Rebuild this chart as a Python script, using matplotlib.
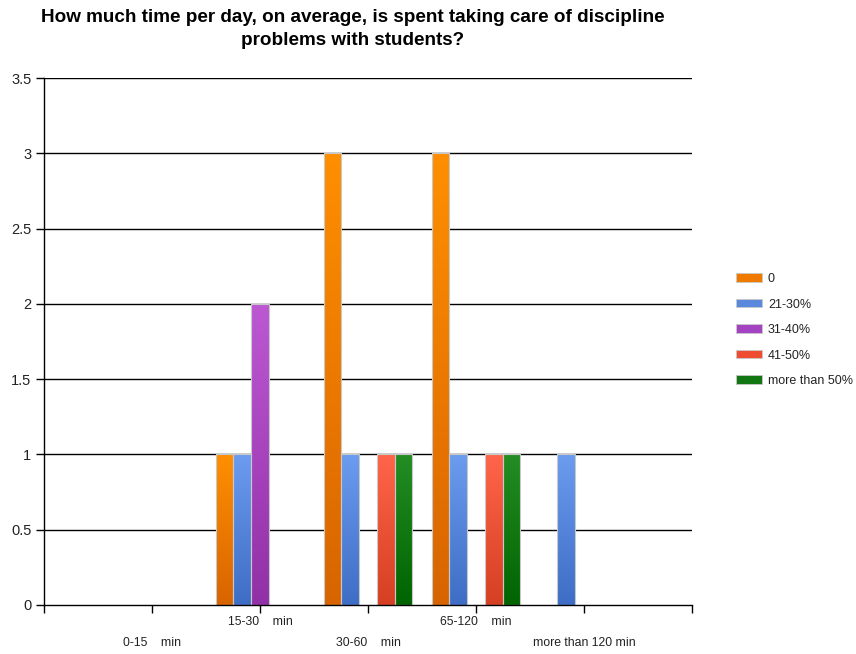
import numpy as np
import matplotlib
matplotlib.use("Agg")
import matplotlib.pyplot as plt
from matplotlib.colors import LinearSegmentedColormap
from matplotlib.patches import Patch

plt.rcParams['font.family'] = ['Liberation Sans', 'DejaVu Sans']

# ---- data ----
categories = ["0-15    min", "15-30    min", "30-60    min", "65-120    min", "more than 120 min"]
series_names = ["0", "21-30%", "31-40%", "41-50%", "more than 50%"]
values_0 = [0, 1, 3, 3, 0]
values_21_30 = [0, 1, 1, 1, 1]
values_31_40 = [0, 2, 0, 0, 0]
values_41_50 = [0, 0, 1, 1, 0]
values_over_50 = [0, 0, 1, 1, 0]
series_values = [values_0, values_21_30, values_31_40, values_41_50, values_over_50]

# gradient colours (top, bottom) and legend swatch colours
grad_colors = [("#FF8F00", "#D86400"),
               ("#6B9CEF", "#3E6DC5"),
               ("#BD58D3", "#9230A7"),
               ("#FF654A", "#D53F22"),
               ("#248D24", "#006400")]
legend_colors = ["#F07A00", "#5A88DD", "#A343C2", "#EE4D32", "#127612"]

fig = plt.figure(figsize=(8.56, 6.54), dpi=100)
W, H = 856, 654
ax = fig.add_axes([44 / W, 1 - 605 / H, (692 - 44) / W, (605 - 78) / H])

x = np.arange(1, len(categories) + 1)
bw = 0.164
n = len(series_names)

ax.set_xlim(0, len(categories) + 1)
ax.set_ylim(0, 3.5)

# horizontal grid
for yv in np.arange(0.5, 3.51, 0.5):
    ax.axhline(yv, color="black", lw=1.0, zorder=1)

for i, vals in enumerate(series_values):
    offs = (i - (n - 1) / 2) * bw
    cmap = LinearSegmentedColormap.from_list("g%d" % i, [grad_colors[i][1], grad_colors[i][0]])
    bars = ax.bar(x + offs, vals, width=bw, color="none", edgecolor="#C8C8C8",
                  linewidth=0.8, zorder=3)
    for rect, v in zip(bars, vals):
        if v <= 0:
            continue
        x0 = rect.get_x()
        grad = np.linspace(0, 1, 256).reshape(-1, 1)
        im = ax.imshow(grad, cmap=cmap, origin="lower", aspect="auto",
                       extent=(x0, x0 + bw, 0, v), zorder=2, interpolation="bilinear")
        im.set_clip_path(rect)

ax.set_xlim(0, len(categories) + 1)
ax.set_ylim(0, 3.5)

# axes styling
for s in ["top", "right"]:
    ax.spines[s].set_visible(False)
for s in ["left", "bottom"]:
    ax.spines[s].set_color("black")
    ax.spines[s].set_linewidth(1.0)
    ax.spines[s].set_zorder(4)

ax.set_yticks(np.arange(0, 3.51, 0.5))
ax.set_yticklabels(["0", "0.5", "1", "1.5", "2", "2.5", "3", "3.5"])
ax.tick_params(axis="y", length=6, width=1, color="black", labelsize=10.5,
               labelcolor="#222222", pad=3)
ax.set_xticks(np.arange(0, len(categories) + 2))
ax.set_xticklabels([])
ax.tick_params(axis="x", length=6, width=1, color="black")

# staggered category labels
for k, lab in enumerate(categories):
    dy = -17 if k % 2 == 1 else -38
    ax.annotate(lab, xy=(x[k], 0), xycoords=("data", "axes fraction"),
                xytext=(0, dy * 0.72), textcoords="offset points",
                ha="center", va="center", fontsize=8.8, color="#222222")

# title
fig.text(353 / W, 1 - 29 / H,
         "How much time per day, on average, is spent taking care of discipline\nproblems with students?",
         ha="center", va="center", fontsize=13.6, fontweight="bold", color="black",
         linespacing=1.4)

handles = [Patch(facecolor=c, edgecolor="#C8C8C8", linewidth=0.6) for c in legend_colors]
fig.legend(handles, series_names, loc="upper left",
           bbox_to_anchor=(736 / W, 1 - 273 / H), frameon=False, fontsize=9,
           handlelength=2.1, handleheight=0.65, handletextpad=0.45,
           labelspacing=1.08, borderpad=0, borderaxespad=0, labelcolor="#222222")

fig.savefig("out.png", dpi=100, facecolor="white")
